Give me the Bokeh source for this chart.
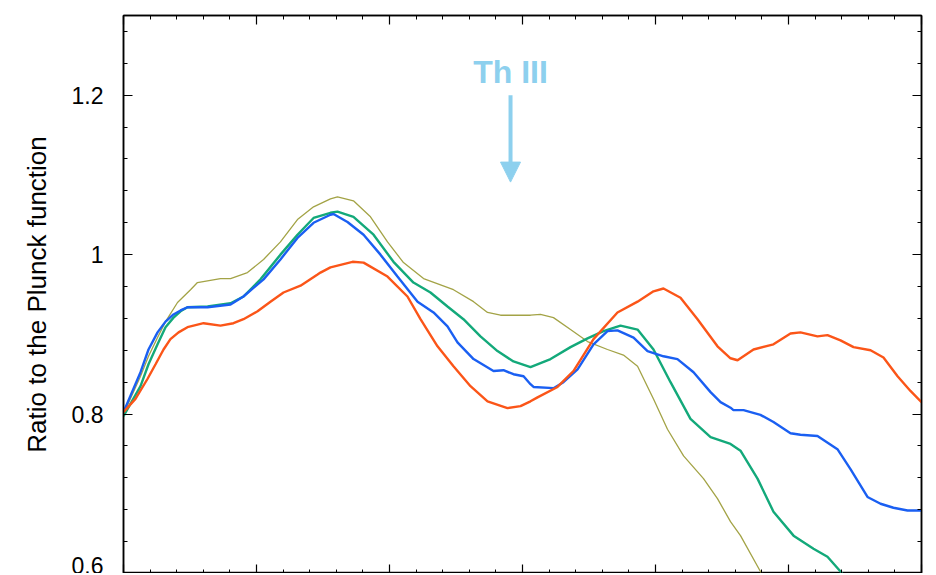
from bokeh.plotting import figure
from bokeh.models import (Range1d, LinearAxis, SingleIntervalTicker, CustomJSTickFormatter,
                          Arrow, NormalHead, Label)
from bokeh.embed import file_html
from bokeh.resources import INLINE

# ---- data (x in arbitrary units, 0..6; y = ratio to the Planck function) ----
red_x = [0.00, 0.090, 0.180, 0.241, 0.301, 0.353, 0.414, 0.481, 0.602, 0.729, 0.827, 0.902, 1.008,
         1.105, 1.203, 1.331, 1.459, 1.481, 1.556, 1.579, 1.722, 1.805, 1.985, 2.135, 2.233, 2.361,
         2.481, 2.609, 2.737, 2.887, 2.985, 3.060, 3.113, 3.263, 3.383, 3.534, 3.714, 3.865, 3.985,
         4.060, 4.188, 4.316, 4.466, 4.564, 4.617, 4.737, 4.887, 5.015, 5.090, 5.218, 5.293, 5.391,
         5.489, 5.617, 5.714, 5.820, 5.917, 6.000]
red_y = [0.8025, 0.819, 0.844, 0.8625, 0.881, 0.894, 0.9025, 0.909, 0.914, 0.911, 0.914, 0.919, 0.929,
         0.941, 0.9525, 0.961, 0.975, 0.9775, 0.984, 0.985, 0.991, 0.990, 0.9725, 0.9475, 0.919, 0.885,
         0.860, 0.835, 0.816, 0.8075, 0.810, 0.816, 0.821, 0.834, 0.854, 0.894, 0.9275, 0.941, 0.954,
         0.9575, 0.946, 0.919, 0.885, 0.870, 0.8675, 0.881, 0.8875, 0.901, 0.9025, 0.8975, 0.899, 0.8925,
         0.884, 0.880, 0.871, 0.8475, 0.829, 0.815]

blue_x = [0.00, 0.128, 0.188, 0.256, 0.316, 0.376, 0.429, 0.481, 0.632, 0.805, 0.902, 1.053, 1.180,
          1.308, 1.429, 1.556, 1.579, 1.684, 1.805, 1.932, 2.060, 2.211, 2.331, 2.436, 2.511, 2.632,
          2.782, 2.857, 2.932, 3.008, 3.060, 3.083, 3.233, 3.308, 3.414, 3.534, 3.639, 3.714, 3.835,
          3.940, 4.060, 4.165, 4.286, 4.414, 4.489, 4.564, 4.586, 4.662, 4.789, 4.887, 5.015, 5.090,
          5.218, 5.368, 5.466, 5.594, 5.692, 5.789, 5.895, 6.000]
blue_y = [0.8025, 0.8525, 0.881, 0.9025, 0.916, 0.925, 0.930, 0.934, 0.934, 0.9375, 0.9475, 0.969, 0.994,
          1.021, 1.040, 1.050, 1.051, 1.041, 1.025, 1.000, 0.9725, 0.941, 0.9275, 0.910, 0.890, 0.869,
          0.854, 0.855, 0.850, 0.8475, 0.8375, 0.834, 0.8325, 0.840, 0.856, 0.8875, 0.904, 0.905, 0.896,
          0.879, 0.8725, 0.869, 0.8525, 0.8275, 0.815, 0.808, 0.805, 0.805, 0.799, 0.790, 0.776, 0.774,
          0.7725, 0.756, 0.731, 0.696, 0.6875, 0.6825, 0.679, 0.679]

green_x = [0.00, 0.128, 0.188, 0.256, 0.316, 0.376, 0.429, 0.481, 0.632, 0.805, 0.902, 1.030, 1.180,
           1.308, 1.429, 1.556, 1.609, 1.729, 1.880, 2.030, 2.180, 2.308, 2.436, 2.556, 2.684, 2.812,
           2.932, 3.060, 3.211, 3.361, 3.489, 3.609, 3.737, 3.865, 3.985, 4.113, 4.263, 4.414, 4.564,
           4.639, 4.767, 4.887, 5.038, 5.188, 5.293, 5.391, 5.450]
green_y = [0.7975, 0.835, 0.8625, 0.8875, 0.909, 0.921, 0.929, 0.934, 0.935, 0.939, 0.9475, 0.969, 1.000,
           1.025, 1.046, 1.0525, 1.054, 1.0475, 1.025, 0.991, 0.965, 0.9525, 0.935, 0.919, 0.8975, 0.879,
           0.866, 0.859, 0.869, 0.884, 0.895, 0.904, 0.911, 0.906, 0.881, 0.840, 0.794, 0.771, 0.7625,
           0.754, 0.719, 0.6775, 0.6475, 0.631, 0.621, 0.6025, 0.590]

olive_x = [0.00, 0.128, 0.188, 0.256, 0.316, 0.406, 0.504, 0.556, 0.729, 0.805, 0.932, 1.053, 1.180,
           1.308, 1.429, 1.556, 1.609, 1.729, 1.857, 1.985, 2.105, 2.256, 2.481, 2.632, 2.737, 2.835,
           3.060, 3.135, 3.233, 3.361, 3.489, 3.639, 3.759, 3.865, 3.985, 4.090, 4.211, 4.361, 4.466,
           4.564, 4.639, 4.789, 4.850]
olive_y = [0.800, 0.8475, 0.8725, 0.896, 0.916, 0.940, 0.956, 0.965, 0.970, 0.970, 0.9775, 0.994, 1.016,
           1.044, 1.060, 1.070, 1.0725, 1.0675, 1.0475, 1.016, 0.990, 0.970, 0.956, 0.941, 0.9275, 0.924,
           0.924, 0.925, 0.921, 0.906, 0.891, 0.881, 0.874, 0.860, 0.819, 0.781, 0.7475, 0.719, 0.694,
           0.665, 0.6475, 0.6025, 0.590]

line_label = "Th III"
line_x = 2.91
y_label = "Ratio to the Plunck function"
panel_above_label = "0.6"

FONT = "Liberation Sans"

p = figure(frame_width=798, frame_height=558, output_backend="svg", toolbar_location=None,
           x_range=Range1d(0, 6), y_range=Range1d(0.6, 1.3),
           x_axis_location=None, y_axis_location=None,
           min_border_left=123, min_border_top=15, min_border_right=7, min_border_bottom=0)
p.xgrid.visible = False
p.ygrid.visible = False
p.outline_line_color = "black"
p.outline_line_width = 1.5
p.background_fill_color = "white"
p.border_fill_color = "white"

fmt = CustomJSTickFormatter(code="return String(Math.round(tick*10)/10);")

def style(ax, labels):
    ax.axis_line_color = "black"
    ax.axis_line_width = 1.5
    ax.major_tick_line_color = "black"
    ax.minor_tick_line_color = "black"
    ax.major_tick_line_width = 1.2
    ax.minor_tick_line_width = 1.0
    ax.major_tick_in = 9
    ax.major_tick_out = 0
    ax.minor_tick_in = 4
    ax.minor_tick_out = 0
    if not labels:
        ax.major_label_text_font_size = "0px"
        ax.major_label_standoff = 0
        ax.major_label_text_color = None

yt = SingleIntervalTicker(interval=0.2, num_minor_ticks=5)
xt = SingleIntervalTicker(interval=1, num_minor_ticks=5)

left = LinearAxis(ticker=yt, formatter=fmt, axis_label=y_label)
style(left, True)
left.major_label_text_font = FONT
left.major_label_text_font_size = "23px"
left.major_label_text_color = "black"
left.major_label_standoff = 20
left.axis_label_text_font = FONT
left.axis_label_text_font_size = "26px"
left.axis_label_text_font_style = "normal"
left.axis_label_text_color = "black"
left.axis_label_standoff = 17
p.add_layout(left, "left")

right = LinearAxis(ticker=yt, formatter=fmt)
style(right, False)
p.add_layout(right, "right")

top = LinearAxis(ticker=xt)
style(top, False)
p.add_layout(top, "above")

bottom = LinearAxis(ticker=xt)
style(bottom, False)
p.add_layout(bottom, "below")

p.line(olive_x, olive_y, line_color="#a3a346", line_width=1.3)
p.line(green_x, green_y, line_color="#13a97a", line_width=2.4)
p.line(blue_x, blue_y, line_color="#1a5ff2", line_width=2.4)
p.line(red_x, red_y, line_color="#fb5518", line_width=2.4)

blue_light = "#8dd0ee"
p.add_layout(Arrow(end=NormalHead(size=20, fill_color=blue_light, line_color=blue_light),
                   x_start=line_x, y_start=1.2, x_end=line_x, y_end=1.091,
                   line_color=blue_light, line_width=4))
p.add_layout(Label(x=line_x, y=1.229, text=line_label, text_align="center", text_baseline="middle",
                   text_font=FONT, text_font_size="32px", text_font_style="bold",
                   text_color=blue_light))

# bottom of the tick label of the panel above (cropped in the original)
p.add_layout(Label(x=-0.12, y=1.3205, text=panel_above_label, text_align="right",
                   text_baseline="middle", text_font=FONT, text_font_size="23px",
                   text_color="black"))

open("out.html", "w").write(file_html(p, INLINE))
